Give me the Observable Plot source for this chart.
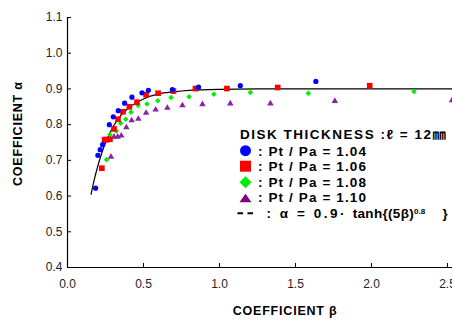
<!DOCTYPE html>
<html>
<head>
<meta charset="utf-8">
<script src="https://cdn.jsdelivr.net/npm/d3@7"></script>
<script src="https://cdn.jsdelivr.net/npm/@observablehq/plot@0.6"></script>
<style>
  html, body { margin: 0; padding: 0; background: #fff; overflow: hidden; }
  #chart { position: relative; width: 452px; height: 322px; }
</style>
</head>
<body>
<div id="chart"></div>
<script>
// ---- data ----
const beta104  = [0.185, 0.200, 0.215, 0.231, 0.275, 0.301, 0.334, 0.376, 0.424, 0.490, 0.532, 0.690, 0.862, 1.137, 1.634];
const alpha104 = [0.622, 0.714, 0.730, 0.744, 0.800, 0.822, 0.839, 0.860, 0.877, 0.889, 0.896, 0.898, 0.905, 0.909, 0.921];

const beta106  = [0.226, 0.244, 0.257, 0.279, 0.306, 0.332, 0.365, 0.407, 0.457, 0.517, 0.596, 0.697, 0.842, 1.049, 1.383, 1.988];
const alpha106 = [0.678, 0.758, 0.758, 0.759, 0.788, 0.815, 0.836, 0.850, 0.863, 0.884, 0.888, 0.894, 0.901, 0.901, 0.904, 0.909];

const beta108  = [0.257, 0.279, 0.321, 0.350, 0.383, 0.418, 0.464, 0.523, 0.594, 0.681, 0.800, 0.963, 1.203, 1.585, 2.280];
const alpha108 = [0.702, 0.772, 0.782, 0.804, 0.815, 0.835, 0.854, 0.858, 0.867, 0.876, 0.878, 0.885, 0.890, 0.888, 0.893];

const beta110  = [0.286, 0.306, 0.330, 0.354, 0.387, 0.422, 0.466, 0.517, 0.580, 0.657, 0.756, 0.888, 1.071, 1.335, 1.759, 2.530];
const alpha110 = [0.710, 0.766, 0.766, 0.769, 0.792, 0.812, 0.816, 0.833, 0.842, 0.847, 0.854, 0.857, 0.859, 0.859, 0.866, 0.868];

// fitted curve  α = 0.9·tanh{(5β)^0.8}
const fitBeta  = [0.155, 0.175, 0.200, 0.225, 0.250, 0.300, 0.350, 0.400, 0.500, 0.600, 0.700, 0.800, 1.000, 1.250, 1.500, 2.550];
const fitAlpha = [0.605, 0.644, 0.685, 0.720, 0.749, 0.794, 0.825, 0.846, 0.872, 0.886, 0.892, 0.896, 0.899, 0.900, 0.900, 0.900];

const xTicks = [0.0, 0.5, 1.0, 1.5, 2.0, 2.5];
const yTicks = [0.4, 0.5, 0.6, 0.7, 0.8, 0.9, 1.0, 1.1];

const legendTitle = "DISK THICKNESS :ℓ = 12㎜";
const seriesLabels = [": Pt / Pa = 1.04", ": Pt / Pa = 1.06", ": Pt / Pa = 1.08", ": Pt / Pa = 1.10"];
const xTitle = "COEFFICIENT β";
const yTitle = "COEFFICIENT α";

// ---- styling ----
const colors = ["#0000ff", "#ff0000", "#00ee00", "#8e1fa6"];
const W = 452, H = 322, ML = 67, MR = 0, MT = 17, MB = 55;
const FONT = "'Liberation Sans', Arial, 'DejaVu Sans', 'Noto Sans CJK JP', sans-serif";

const pts = (bs, as) => bs.map((b, i) => ({beta: b, alpha: as[i]}));
const s104 = pts(beta104, alpha104);
const s106 = pts(beta106, alpha106);
const s108 = pts(beta108, alpha108);
const s110 = pts(beta110, alpha110);
const fit = pts(fitBeta, fitAlpha);

const svg = Plot.plot({
  width: W, height: H,
  marginLeft: ML, marginRight: MR, marginTop: MT, marginBottom: MB,
  style: {fontFamily: FONT, fontSize: "12px", background: "#fff", color: "#111", overflow: "visible"},
  x: {domain: [0, 2.533]},
  y: {domain: [0.4, 1.1]},
  marks: [
    Plot.axisX(xTicks, {tickSize: 0, tickPadding: 12, tickFormat: d3.format(".1f"), label: null, fontSize: 12, fill: "#222"}),
    Plot.axisY(yTicks, {tickSize: 0, tickPadding: 5, tickFormat: d3.format(".1f"), label: null, fontSize: 12, fill: "#222"}),
    Plot.tickY(yTicks, {y: d => d, insetRight: W - ML - MR - 4, stroke: "#000"}),
    Plot.tickX(xTicks, {x: d => d, insetTop: H - MT - MB - 4, stroke: "#000"}),
    Plot.ruleX([0], {stroke: "#000", strokeWidth: 1.2}),
    Plot.ruleY([0.4], {stroke: "#000", strokeWidth: 1.2}),
    Plot.line(fit, {x: "beta", y: "alpha", curve: "monotone-x", stroke: "#000", strokeWidth: 1.2}),
    Plot.dot(s110, {x: "beta", y: "alpha", symbol: "triangle", r: 2.4, fill: colors[3], stroke: "none"}),
    Plot.dot(s108, {x: "beta", y: "alpha", symbol: "diamond2", r: 2.5, fill: colors[2], stroke: "none"}),
    Plot.dot(s106, {x: "beta", y: "alpha", symbol: "square", r: 3.2, fill: colors[1], stroke: "none"}),
    Plot.dot(s104, {x: "beta", y: "alpha", symbol: "circle", r: 2.6, fill: colors[0], stroke: "none"})
  ]
});

const g = d3.select(svg).append("g").attr("font-family", FONT).attr("fill", "#000");

// axis titles
g.append("text").attr("x", 284.7).attr("y", 315).attr("text-anchor", "middle")
  .attr("font-size", 12.5).attr("font-weight", "bold")
  .attr("textLength", 104).attr("lengthAdjust", "spacing").text(xTitle);
g.append("text").attr("transform", "translate(21.5,134) rotate(-90)").attr("text-anchor", "middle")
  .attr("font-size", 12.5).attr("font-weight", "bold")
  .attr("textLength", 104).attr("lengthAdjust", "spacing").text(yTitle);

// legend
const lg = g.append("g").attr("font-size", 13.5).attr("font-weight", "bold").attr("text-anchor", "start");
lg.append("text").attr("x", 240).attr("y", 139.3)
  .attr("textLength", 206).attr("lengthAdjust", "spacing").text(legendTitle);

const rowY = [155.7, 171.2, 186.7, 202.3];
const mx = 245.5;
// circle
lg.append("circle").attr("cx", mx).attr("cy", rowY[0] - 5).attr("r", 5.5).attr("fill", colors[0]);
// square
lg.append("rect").attr("x", mx - 5.5).attr("y", rowY[1] - 10.5).attr("width", 11).attr("height", 11).attr("fill", colors[1]);
// diamond
lg.append("path").attr("d", `M${mx},${rowY[2]-10.5}L${mx+6},${rowY[2]-4.5}L${mx},${rowY[2]+1.5}L${mx-6},${rowY[2]-4.5}Z`).attr("fill", colors[2]);
// triangle
lg.append("path").attr("d", `M${mx},${rowY[3]-8.5}L${mx+6},${rowY[3]}L${mx-6},${rowY[3]}Z`).attr("fill", "#800080");

seriesLabels.forEach((t, i) => {
  lg.append("text").attr("x", 258).attr("y", rowY[i])
    .attr("textLength", 108).attr("lengthAdjust", "spacing").text(t);
});

// formula row
const fy = 217.7;
lg.append("path").attr("d", `M237.5,${fy-4.5}H253`).attr("stroke", "#000").attr("stroke-width", 2)
  .attr("stroke-dasharray", "5.5,4.5").attr("fill", "none");
lg.append("text").attr("x", 266.5).attr("y", fy).attr("textLength", 78).attr("lengthAdjust", "spacing").text(": α = 0.9·");
lg.append("text").attr("x", 352.7).attr("y", fy).attr("textLength", 61).attr("lengthAdjust", "spacing").text("tanh{(5β)");
lg.append("text").attr("x", 414).attr("y", fy - 4).attr("font-size", 8).text("0.8");
lg.append("text").attr("x", 442.5).attr("y", fy).text("}");

document.getElementById("chart").appendChild(svg);
</script>
</body>
</html>
